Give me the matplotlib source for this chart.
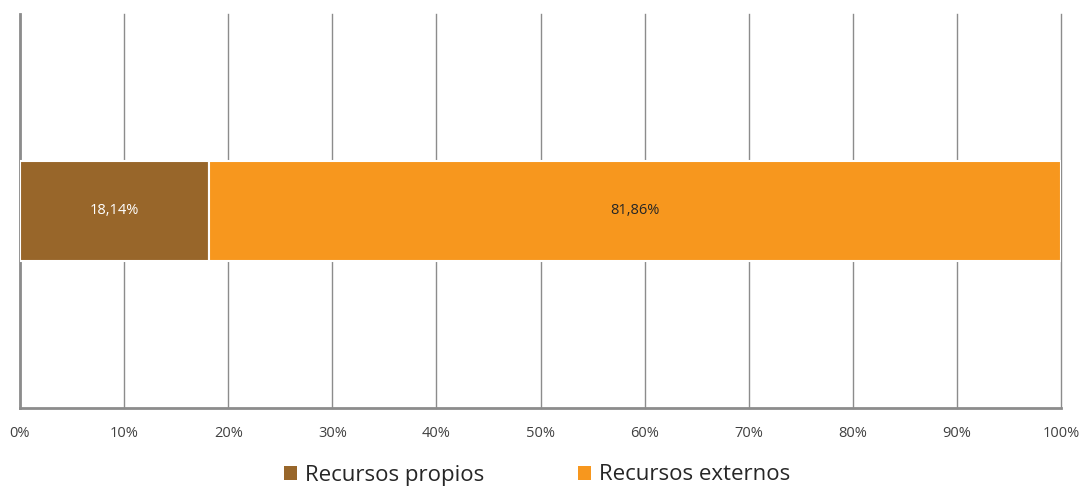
import matplotlib.pyplot as plt
from matplotlib.patches import Patch

plt.rcParams['font.family'] = ['Open Sans', 'DejaVu Sans']

# datos
series = ["Recursos propios", "Recursos externos"]
valores = [18.14, 81.86]
etiquetas = ["18,14%", "81,86%"]
colores = ["#98662A", "#F7971E"]
colores_texto = ["white", "#262626"]
ticks = [0, 10, 20, 30, 40, 50, 60, 70, 80, 90, 100]
tick_labels = [f"{t}%" for t in ticks]

fig = plt.figure(figsize=(10.8, 4.87), dpi=100)
ax = fig.add_axes([20 / 1080, 1 - 408 / 487, 1041 / 1080, 394 / 487])

izq = 0
for nombre, v, c, lab, tc in zip(series, valores, colores, etiquetas, colores_texto):
    ax.barh(0, v, left=izq, height=0.254, color=c, edgecolor="white",
            linewidth=1.5, zorder=3)
    ax.text(izq + v / 2, 0, lab, ha="center", va="center", color=tc,
            fontsize=10.5, zorder=4)
    izq += v

ax.set_xlim(0, 100)
ax.set_ylim(-0.5, 0.5)
ax.set_xticks(ticks)
ax.set_xticklabels(tick_labels, fontsize=10.5, color="#404040")
ax.set_yticks([])
ax.tick_params(axis="x", length=0, pad=13)
ax.grid(axis="x", color="#8C8C8C", linewidth=1, zorder=0)
for gl in ax.get_xgridlines():
    gl.set_clip_on(False)
for s in ["top", "right"]:
    ax.spines[s].set_visible(False)
for s in ["left", "bottom"]:
    ax.spines[s].set_color("#8C8C8C")
    ax.spines[s].set_linewidth(2)

handles = [Patch(facecolor=c, edgecolor="none") for c in colores]
fig.legend(handles, series, loc="center", bbox_to_anchor=(537 / 1080, 1 - 475 / 487),
           ncol=2, frameon=False, fontsize=16, handlelength=0.6, handleheight=0.6,
           handletextpad=0.35, columnspacing=4.2, labelcolor="#262626")

fig.savefig("out.png", dpi=100)
